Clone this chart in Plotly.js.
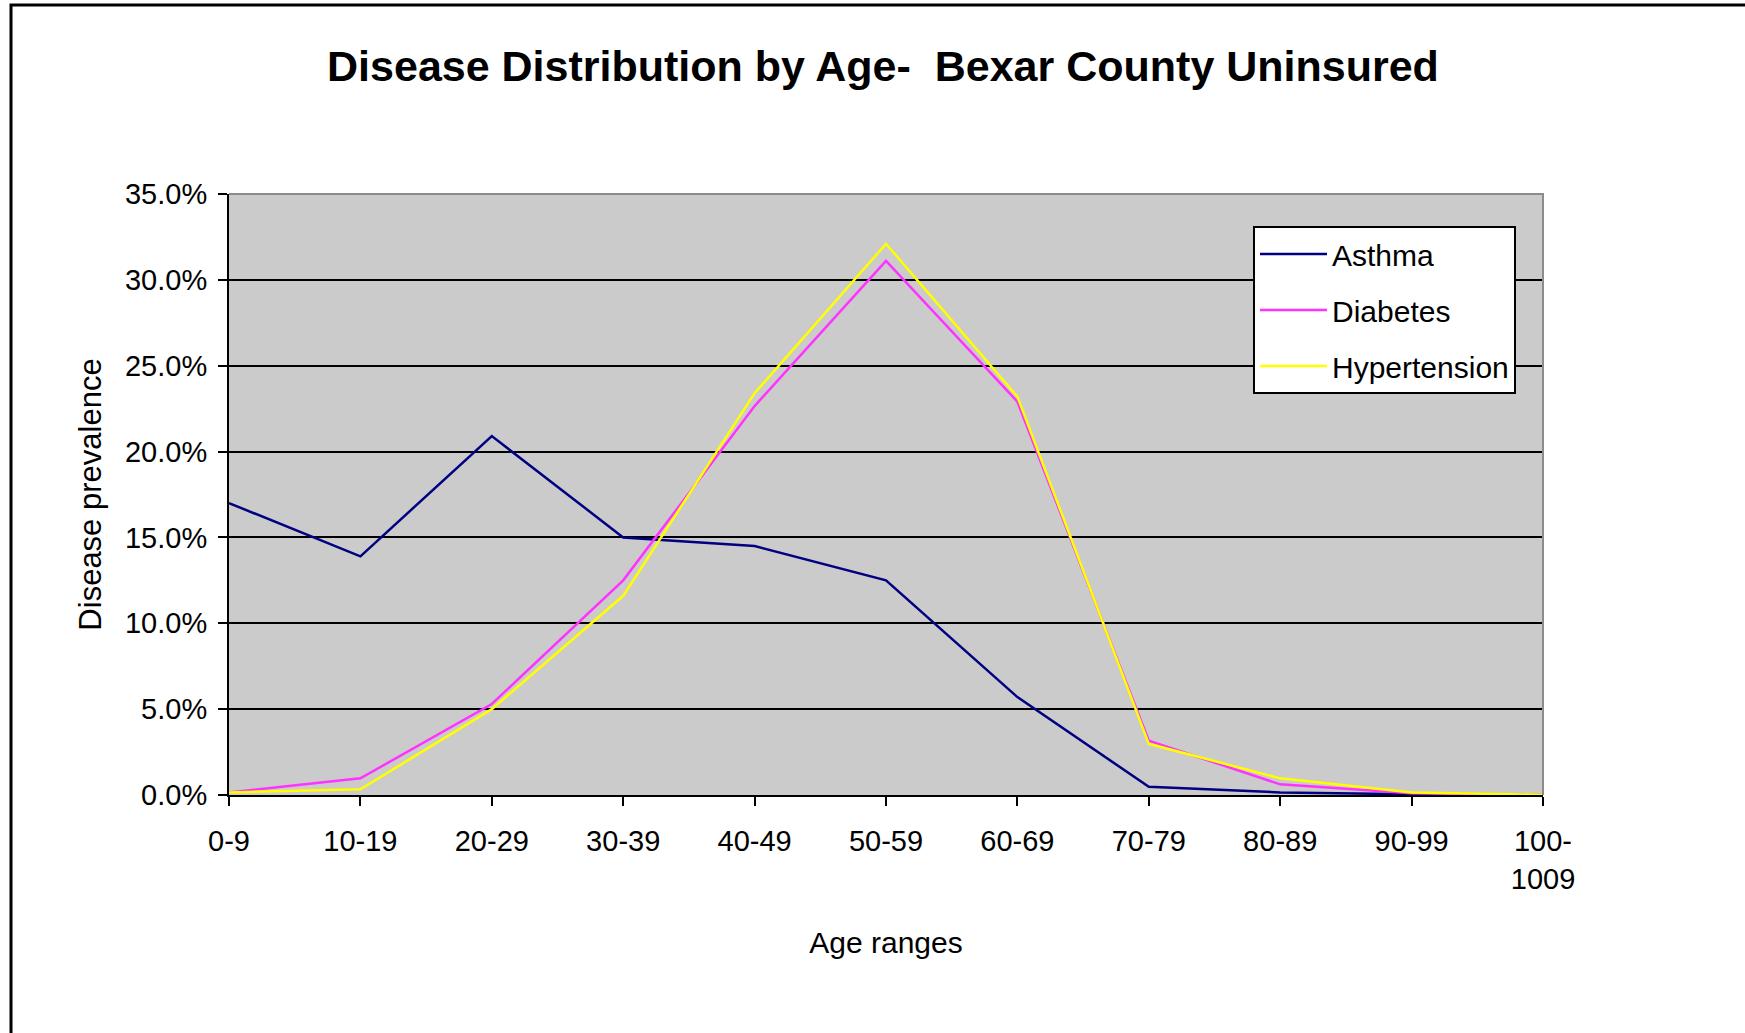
<!DOCTYPE html>
<html>
<head>
<meta charset="utf-8">
<script src="https://cdn.plot.ly/plotly-3.0.1.min.js"></script>
<style>
  html, body { margin: 0; padding: 0; background: #ffffff; }
  #chart { width: 1745px; height: 1033px; }
</style>
</head>
<body>
<div id="chart"></div>
<script>
// Age range categories and their tick labels
const ageRanges = ['0-9', '10-19', '20-29', '30-39', '40-49', '50-59', '60-69', '70-79', '80-89', '90-99', '100-1009'];
const ageLabels = ['0-9', '10-19', '20-29', '30-39', '40-49', '50-59', '60-69', '70-79', '80-89', '90-99', '100-<br>1009'];

// Disease prevalence by age range (fraction)
const asthma       = [0.170, 0.139, 0.209, 0.150, 0.145, 0.125, 0.057, 0.0048, 0.0015, 0.0004, 0.0000];
const diabetes     = [0.0015, 0.0097, 0.053, 0.125, 0.2265, 0.311, 0.229, 0.0316, 0.0062, 0.0010, 0.0000];
const hypertension = [0.0015, 0.0033, 0.050, 0.116, 0.234, 0.321, 0.232, 0.0298, 0.0097, 0.0014, 0.0002];

const seriesNames  = ['Asthma', 'Diabetes', 'Hypertension'];
const seriesColors = ['#000080', '#FF33FF', '#FFFF00'];
const seriesValues = [asthma, diabetes, hypertension];

const FONT = '"Liberation Sans", Arial, sans-serif';

const traces = seriesValues.map((vals, i) => ({
  type: 'scatter',
  mode: 'lines',
  x: ageRanges,
  y: vals,
  name: seriesNames[i],
  legendgroup: 'g' + i,
  line: { color: seriesColors[i], width: 2.5 },
  hoverinfo: 'x+y+name'
}));

const layout = {
  width: 1745,
  height: 1033,
  paper_bgcolor: '#ffffff',
  plot_bgcolor: '#cbcbcb',
  margin: { l: 229, r: 202, t: 194, b: 238, autoexpand: false },
  font: { family: FONT, color: '#000000', size: 29 },
  title: {
    text: 'Disease Distribution by Age-  Bexar County Uninsured',
    font: { family: FONT, size: 43, color: '#000000', weight: 'bold' },
    xref: 'container', x: 0.506, xanchor: 'center',
    yref: 'container', y: 0.936, yanchor: 'middle'
  },
  xaxis: {
    type: 'category',
    range: [0, ageRanges.length - 1],
    tickmode: 'array',
    tickvals: ageRanges,
    ticktext: ageLabels,
    showgrid: false,
    showline: true,
    linecolor: '#000000',
    linewidth: 2,
    ticks: 'outside',
    ticklen: 9,
    tickwidth: 2,
    tickcolor: '#000000',
    ticklabelstandoff: 10,
    tickfont: { family: FONT, size: 29, color: '#000000' },
    zeroline: false,
    automargin: false,
    fixedrange: true,
    title: { text: 'Age ranges', font: { family: FONT, size: 30, color: '#000000' }, standoff: 38 }
  },
  yaxis: {
    range: [0, 0.35],
    tick0: 0,
    dtick: 0.05,
    tickformat: '.1%',
    showgrid: true,
    gridcolor: '#000000',
    gridwidth: 2,
    showline: true,
    linecolor: '#000000',
    linewidth: 2,
    ticks: 'outside',
    ticklen: 9,
    tickwidth: 2,
    tickcolor: '#000000',
    ticklabelstandoff: 5,
    tickfont: { family: FONT, size: 29, color: '#000000' },
    zeroline: false,
    automargin: false,
    fixedrange: true,
    title: { text: 'Disease prevalence', font: { family: FONT, size: 31, color: '#000000' }, standoff: 14 }
  },
  showlegend: true,
  legend: {
    x: 0.7793, xanchor: 'left',
    y: 0.9468, yanchor: 'top',
    bgcolor: '#ffffff',
    bordercolor: '#000000',
    borderwidth: 2,
    font: { family: FONT, size: 30, color: '#000000' },
    traceorder: 'grouped',
    tracegroupgap: 14,
    itemwidth: 67
  },
  shapes: [
    // gray top and right edges of the plot area
    { type: 'path', xref: 'paper', yref: 'paper', path: 'M0,1 L1,1 L1,0',
      line: { color: '#8c8c8c', width: 2 }, layer: 'above' },
    // outer chart frame
    { type: 'rect', xref: 'paper', yref: 'paper', x0: -0.1659, x1: 1.3, y0: -0.5, y1: 1.3145,
      line: { color: '#000000', width: 3 }, fillcolor: 'rgba(0,0,0,0)', layer: 'below' }
  ]
};

Plotly.newPlot('chart', traces, layout, { displayModeBar: false, staticPlot: true });
</script>
</body>
</html>
